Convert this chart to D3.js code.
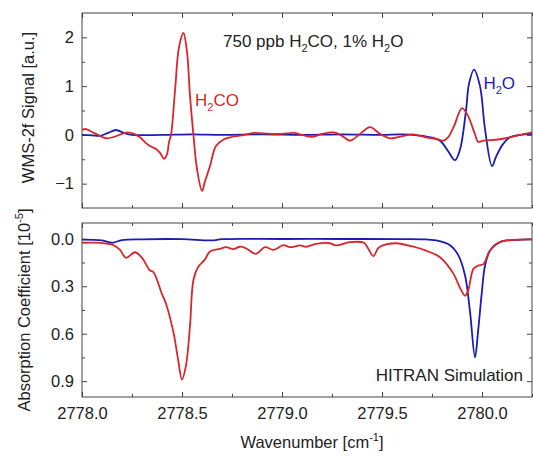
<!DOCTYPE html>
<html>
<head>
<meta charset="utf-8">
<script src="https://cdn.jsdelivr.net/npm/d3@7"></script>
<style>
  body { margin: 0; background: #fff; }
  svg text { font-family: "Liberation Sans", Arial, sans-serif; fill: #222; }
</style>
</head>
<body>
<script>
// axes
const xMajorTicks = [2778.0, 2778.5, 2779.0, 2779.5, 2780.0]
const xMinorTicks = [2778.25, 2778.75, 2779.25, 2779.75, 2780.25]
const topMajorTicks = [-1, 0, 1, 2]
const topMinorTicks = [-0.5, 0.5, 1.5]
const botMajorTicks = [0.0, 0.3, 0.6, 0.9]
const botMinorTicks = [0.15, 0.45, 0.75]

// WMS-2f signal, [wavenumber, signal]
const wmsH2CO = [
  [2778.00, 0.10], [2778.02, 0.12], [2778.05, 0.06], [2778.08, 0.0], [2778.12, -0.07],
  [2778.16, -0.04], [2778.20, 0.02], [2778.23, 0.05], [2778.26, 0.02], [2778.29, -0.05],
  [2778.32, -0.17], [2778.34, -0.23], [2778.37, -0.29], [2778.39, -0.37], [2778.41, -0.49],
  [2778.425, -0.40], [2778.435, -0.15], [2778.445, 0.0], [2778.465, 0.9], [2778.485, 1.8],
  [2778.507, 2.09], [2778.525, 1.7], [2778.54, 0.8], [2778.557, 0.0], [2778.575, -0.7],
  [2778.60, -1.15], [2778.615, -0.95], [2778.64, -0.64], [2778.67, -0.23], [2778.71, -0.09],
  [2778.74, -0.05], [2778.80, -0.01], [2778.86, 0.04], [2778.94, 0.02], [2779.00, 0.02],
  [2779.06, 0.04], [2779.10, 0.0], [2779.15, -0.04], [2779.20, 0.02], [2779.26, 0.05],
  [2779.30, -0.02], [2779.34, -0.12], [2779.39, 0.02], [2779.44, 0.16], [2779.49, 0.02],
  [2779.54, -0.07], [2779.60, -0.03], [2779.655, 0.01], [2779.72, -0.05], [2779.78, -0.09],
  [2779.805, -0.12], [2779.83, -0.05], [2779.86, 0.18], [2779.90, 0.55], [2779.93, 0.39],
  [2779.965, 0.01], [2779.98, -0.14], [2780.01, -0.12], [2780.09, -0.09], [2780.17, -0.02],
  [2780.25, 0.05]
]
const wmsH2O = [
  [2778.00, 0.0], [2778.05, -0.01], [2778.09, -0.02], [2778.13, 0.04], [2778.17, 0.10],
  [2778.21, 0.04], [2778.25, 0.0], [2778.40, 0.0], [2778.55, 0.01], [2778.70, 0.0],
  [2778.90, 0.01], [2779.10, 0.0], [2779.30, 0.01], [2779.50, 0.0], [2779.60, 0.01],
  [2779.73, -0.04], [2779.79, -0.12], [2779.83, -0.33], [2779.865, -0.52], [2779.89, -0.3],
  [2779.92, 0.5], [2779.935, 1.05], [2779.96, 1.34], [2779.99, 1.0], [2780.015, 0.12],
  [2780.05, -0.64], [2780.07, -0.45], [2780.105, -0.19], [2780.14, -0.05], [2780.19, 0.0],
  [2780.25, 0.02]
]

// HITRAN absorption coefficient [1e-5], [wavenumber, absorption]
const absH2CO = [
  [2778.00, 0.025], [2778.09, 0.025], [2778.157, 0.04], [2778.19, 0.07], [2778.22, 0.12],
  [2778.265, 0.085], [2778.30, 0.12], [2778.34, 0.20], [2778.357, 0.21], [2778.40, 0.35],
  [2778.42, 0.41], [2778.457, 0.59], [2778.48, 0.76], [2778.50, 0.89], [2778.52, 0.80],
  [2778.54, 0.55], [2778.557, 0.26], [2778.58, 0.18], [2778.615, 0.13], [2778.64, 0.08],
  [2778.69, 0.063], [2778.72, 0.053], [2778.757, 0.065], [2778.79, 0.05], [2778.82, 0.06],
  [2778.87, 0.095], [2778.915, 0.053], [2778.957, 0.07], [2779.007, 0.04], [2779.04, 0.053],
  [2779.09, 0.042], [2779.12, 0.05], [2779.17, 0.032], [2779.24, 0.028], [2779.27, 0.042],
  [2779.34, 0.021], [2779.41, 0.025], [2779.43, 0.06], [2779.457, 0.11], [2779.48, 0.06],
  [2779.507, 0.04], [2779.57, 0.028], [2779.657, 0.05], [2779.72, 0.075], [2779.79, 0.116],
  [2779.857, 0.22], [2779.89, 0.31], [2779.915, 0.36], [2779.93, 0.33], [2779.957, 0.19],
  [2779.98, 0.17], [2780.007, 0.16], [2780.04, 0.075], [2780.09, 0.021], [2780.17, 0.006],
  [2780.25, 0.003]
]
const absH2O = [
  [2778.00, 0.005], [2778.10, 0.01], [2778.15, 0.025], [2778.20, 0.008], [2778.30, 0.003],
  [2778.50, 0.002], [2778.65, 0.01], [2778.70, 0.002], [2779.00, 0.001], [2779.30, 0.001],
  [2779.60, 0.002], [2779.70, 0.003], [2779.77, 0.01], [2779.84, 0.04], [2779.88, 0.10],
  [2779.915, 0.23], [2779.94, 0.46], [2779.965, 0.75], [2779.98, 0.59], [2779.999, 0.34],
  [2780.015, 0.17], [2780.04, 0.074], [2780.09, 0.02], [2780.20, 0.005], [2780.25, 0.004]
]

const red = "#d8262c"
const blue = "#1c1cb4"
const fs = 16.5

const W = 533, H = 456
const left = 82, right = 532
const topPanel = { y0: 13, y1: 208 }
const botPanel = { y0: 223, y1: 397 }

const svg = d3.select("body").append("svg")
  .attr("width", W)
  .attr("height", H)

const x = d3.scaleLinear().domain([2778.0, 2780.25]).range([left, right])
const yTop = d3.scaleLinear().domain([-1.5, 2.5]).range([topPanel.y1, topPanel.y0])
const yBot = d3.scaleLinear().domain([-0.1, 1.0]).range([botPanel.y0, botPanel.y1])

// draw the ticks of one panel on all four sides
function frame(y, panel, majorY, minorY, withXLabels, yFormat) {
  const g = svg.append("g")
  const noLab = () => ""

  g.append("g").attr("transform", `translate(0,${panel.y1})`)
    .call(d3.axisBottom(x).tickValues(xMajorTicks).tickSizeInner(-5).tickSizeOuter(0).tickPadding(10)
      .tickFormat(withXLabels ? d3.format(".1f") : noLab))
  g.append("g").attr("transform", `translate(0,${panel.y1})`)
    .call(d3.axisBottom(x).tickValues(xMinorTicks).tickSizeInner(-3).tickSizeOuter(0).tickFormat(noLab))
  g.append("g").attr("transform", `translate(0,${panel.y0})`)
    .call(d3.axisTop(x).tickValues(xMajorTicks).tickSizeInner(-5).tickSizeOuter(0).tickFormat(noLab))
  g.append("g").attr("transform", `translate(0,${panel.y0})`)
    .call(d3.axisTop(x).tickValues(xMinorTicks).tickSizeInner(-3).tickSizeOuter(0).tickFormat(noLab))

  g.append("g").attr("transform", `translate(${left},0)`)
    .call(d3.axisLeft(y).tickValues(majorY).tickSizeInner(-5).tickSizeOuter(0).tickPadding(8).tickFormat(yFormat))
  g.append("g").attr("transform", `translate(${left},0)`)
    .call(d3.axisLeft(y).tickValues(minorY).tickSizeInner(-3).tickSizeOuter(0).tickFormat(noLab))
  g.append("g").attr("transform", `translate(${right},0)`)
    .call(d3.axisRight(y).tickValues(majorY).tickSizeInner(-5).tickSizeOuter(0).tickFormat(noLab))
  g.append("g").attr("transform", `translate(${right},0)`)
    .call(d3.axisRight(y).tickValues(minorY).tickSizeInner(-3).tickSizeOuter(0).tickFormat(noLab))

  g.selectAll(".domain").remove()
  g.selectAll(".tick line").attr("stroke", "#444")
  // drop the empty label nodes
  g.selectAll(".tick text").filter(function () { return this.textContent === "" }).remove()
  g.selectAll(".tick text").attr("font-size", fs).attr("fill", "#222")
    .style("font-family", '"Liberation Sans", Arial, sans-serif')

  g.append("rect")
    .attr("x", left).attr("y", panel.y0)
    .attr("width", right - left).attr("height", panel.y1 - panel.y0)
    .attr("fill", "none").attr("stroke", "#444").attr("stroke-width", 1)
}

frame(yTop, topPanel, topMajorTicks, topMinorTicks, false, d3.format("d"))
frame(yBot, botPanel, botMajorTicks, botMinorTicks, true, d3.format(".1f"))

// curves
function curve(y, data, color) {
  const line = d3.line()
    .x(d => x(d[0]))
    .y(d => y(d[1]))
    .curve(d3.curveCatmullRom.alpha(0.5))
  svg.append("path")
    .datum(data)
    .attr("d", line)
    .attr("fill", "none")
    .attr("stroke", color)
    .attr("stroke-width", 1.8)
}

curve(yTop, wmsH2O, blue)
curve(yTop, wmsH2CO, red)
curve(yBot, absH2O, blue)
curve(yBot, absH2CO, red)

// labels with subscripts: strings are normal text, numbers are subscripts
function chemText(xv, yv, parts, color) {
  const t = svg.append("text")
    .attr("x", xv).attr("y", yv)
    .attr("font-size", 17)
    .style("fill", color)
  let shift = 0
  parts.forEach(p => {
    if (typeof p === "number") {
      t.append("tspan").attr("dy", 5).attr("font-size", 11).text(p)
      shift = -5
    } else {
      t.append("tspan").attr("dy", shift).text(p)
      shift = 0
    }
  })
  return t
}

chemText(x(2778.705), yTop(1.8), ["750 ppb H", 2, "CO, 1% H", 2, "O"], "#222")
chemText(x(2778.565), yTop(0.6), ["H", 2, "CO"], red)
chemText(x(2780.007), yTop(0.94), ["H", 2, "O"], blue)

svg.append("text")
  .attr("x", x(2780.205))
  .attr("y", yBot(0.9))
  .attr("text-anchor", "end")
  .attr("font-size", 17)
  .text("HITRAN Simulation")

// axis titles
const xt = svg.append("text")
  .attr("x", (left + right) / 2 + 5)
  .attr("y", 448)
  .attr("text-anchor", "middle")
  .attr("font-size", fs)
xt.append("tspan").text("Wavenumber [cm")
xt.append("tspan").attr("dy", -7).attr("font-size", 11).text("-1")
xt.append("tspan").attr("dy", 7).text("]")

svg.append("text")
  .attr("transform", `translate(34,${(topPanel.y0 + topPanel.y1) / 2 - 3}) rotate(-90)`)
  .attr("text-anchor", "middle")
  .attr("font-size", fs)
  .text("WMS-2f Signal [a.u.]")

const yt = svg.append("text")
  .attr("transform", `translate(30,${(botPanel.y0 + botPanel.y1) / 2}) rotate(-90)`)
  .attr("text-anchor", "middle")
  .attr("font-size", fs)
yt.append("tspan").text("Absorption Coefficient [10")
yt.append("tspan").attr("dy", -7).attr("font-size", 11).text("-5")
yt.append("tspan").attr("dy", 7).text("]")
</script>
</body>
</html>
